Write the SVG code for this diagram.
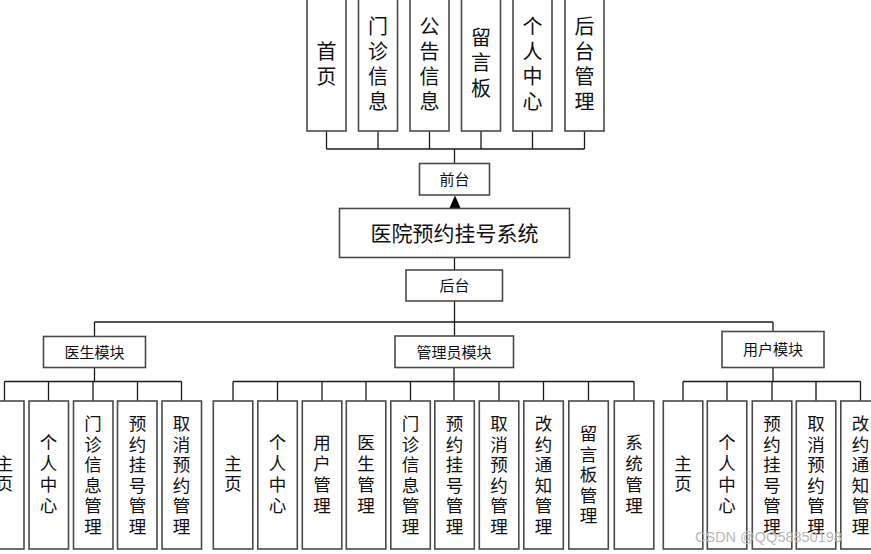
<svg xmlns="http://www.w3.org/2000/svg" width="871" height="554" viewBox="0 0 871 554">
<defs>
<style>
.box{fill:#fff;stroke:#4a4a4a;stroke-width:1.6}
.ln{fill:none;stroke:#1a1a1a;stroke-width:1.3}
text{font-family:"Noto Sans CJK SC","Liberation Sans",sans-serif;fill:#111;text-anchor:middle}
.t20{font-size:20px}
.t18{font-size:17.5px}
.t15{font-size:15px}
.t21{font-size:21px}
.wm{font-family:"Liberation Sans",sans-serif;font-size:14.5px;fill:#b8b8b8;text-anchor:start}
</style>
<marker id="ah" viewBox="0 0 12 13" refX="6" refY="0" markerWidth="12" markerHeight="13" markerUnits="userSpaceOnUse" orient="auto-start-reverse">
<path d="M0,13 L6,0 L12,13 Z" fill="#000"/>
</marker>
</defs>
<rect width="871" height="554" fill="#fff"/>

<g id="connectors">
<path class="ln" d="M326.5,131V149M378,131V149M429.5,131V149M481,131V149M532.5,131V149M584.5,131V149M326.5,149H584.5M454.5,149V163.5"/>
<line class="ln" x1="455" y1="208" x2="455" y2="207" />
<path d="M449.5,208 L455,195.5 L460.5,208 Z" fill="#000"/>
<path class="ln" d="M454.5,257.5V270M454.5,301V336M94.5,322H773M94.5,322V336.5M773,322V331.5"/>
<path class="ln" d="M94.5,367.5V381.5M4.5,381.5H181.5M4.5,381.5V401M48.5,381.5V401M93,381.5V401M137.5,381.5V401M181.5,381.5V401"/>
<path class="ln" d="M454,367.5V401M233,381.5H634M233,381.5V401M277.5,381.5V401M322,381.5V401M366,381.5V401M410.5,381.5V401M499,381.5V401M543.5,381.5V401M588.5,381.5V401M634,381.5V401"/>
<path class="ln" d="M773,367.5V381.5M683,381.5H860.5M683,381.5V401M727,381.5V401M772,381.5V401M816,381.5V401M860.5,381.5V401"/>
</g>

<g id="top-shouye"><rect class="box" x="307" y="-5" width="39" height="136"/><text class="t20"><tspan x="326.5" y="59">首</tspan><tspan x="326.5" y="84">页</tspan></text></g>
<g id="top-menzhen"><rect class="box" x="358.5" y="-5" width="39" height="136"/><text class="t20"><tspan x="378" y="34">门</tspan><tspan x="378" y="59">诊</tspan><tspan x="378" y="84">信</tspan><tspan x="378" y="109">息</tspan></text></g>
<g id="top-gonggao"><rect class="box" x="410" y="-5" width="39" height="136"/><text class="t20"><tspan x="429.5" y="34">公</tspan><tspan x="429.5" y="59">告</tspan><tspan x="429.5" y="84">信</tspan><tspan x="429.5" y="109">息</tspan></text></g>
<g id="top-liuyan"><rect class="box" x="461.5" y="-5" width="39" height="136"/><text class="t20"><tspan x="481" y="45">留</tspan><tspan x="481" y="70">言</tspan><tspan x="481" y="96">板</tspan></text></g>
<g id="top-geren"><rect class="box" x="513" y="-5" width="39" height="136"/><text class="t20"><tspan x="532.5" y="34">个</tspan><tspan x="532.5" y="59">人</tspan><tspan x="532.5" y="84">中</tspan><tspan x="532.5" y="109">心</tspan></text></g>
<g id="top-houtai"><rect class="box" x="565" y="-5" width="39" height="136"/><text class="t20"><tspan x="584.5" y="34">后</tspan><tspan x="584.5" y="59">台</tspan><tspan x="584.5" y="84">管</tspan><tspan x="584.5" y="109">理</tspan></text></g>

<g id="qiantai"><rect class="box" x="419.5" y="163.5" width="70" height="31.5"/><text class="t15" x="454.5" y="185">前台</text></g>
<g id="system"><rect class="box" x="339.5" y="208.5" width="230" height="49"/><text class="t21" x="454.5" y="240.5">医院预约挂号系统</text></g>
<g id="houtai"><rect class="box" x="406" y="270" width="96.5" height="31"/><text class="t15" x="454.5" y="291">后台</text></g>

<g id="mod-doctor"><rect class="box" x="43.5" y="336.5" width="102" height="31"/><text class="t15" x="94.5" y="357.5">医生模块</text></g>
<g id="mod-admin"><rect class="box" x="395" y="336" width="118.5" height="31.5"/><text class="t15" x="454" y="357.5">管理员模块</text></g>
<g id="mod-user"><rect class="box" x="722" y="331.5" width="102" height="36"/><text class="t15" x="773" y="355">用户模块</text></g>

<g id="d1"><rect class="box" x="-15.5" y="401" width="39.5" height="148"/><text class="t18"><tspan x="4.5" y="470">主</tspan><tspan x="4.5" y="490">页</tspan></text></g>
<g id="d2"><rect class="box" x="29" y="401" width="39.5" height="148"/><text class="t18"><tspan x="48.5" y="449">个</tspan><tspan x="48.5" y="470">人</tspan><tspan x="48.5" y="491">中</tspan><tspan x="48.5" y="512">心</tspan></text></g>
<g id="d3"><rect class="box" x="73.5" y="401" width="39.5" height="148"/><text class="t18"><tspan x="93" y="429.5">门</tspan><tspan x="93" y="450.5">诊</tspan><tspan x="93" y="471">信</tspan><tspan x="93" y="491.5">息</tspan><tspan x="93" y="512">管</tspan><tspan x="93" y="533">理</tspan></text></g>
<g id="d4"><rect class="box" x="117.5" y="401" width="39.5" height="148"/><text class="t18"><tspan x="137.5" y="429.5">预</tspan><tspan x="137.5" y="450.5">约</tspan><tspan x="137.5" y="471">挂</tspan><tspan x="137.5" y="491.5">号</tspan><tspan x="137.5" y="512">管</tspan><tspan x="137.5" y="533">理</tspan></text></g>
<g id="d5"><rect class="box" x="162" y="401" width="39.5" height="148"/><text class="t18"><tspan x="181.5" y="429.5">取</tspan><tspan x="181.5" y="450.5">消</tspan><tspan x="181.5" y="471">预</tspan><tspan x="181.5" y="491.5">约</tspan><tspan x="181.5" y="512">管</tspan><tspan x="181.5" y="533">理</tspan></text></g>

<g id="a1"><rect class="box" x="213.3" y="401" width="39.5" height="148"/><text class="t18"><tspan x="233" y="470">主</tspan><tspan x="233" y="490">页</tspan></text></g>
<g id="a2"><rect class="box" x="257.8" y="401" width="39.5" height="148"/><text class="t18"><tspan x="277.5" y="449">个</tspan><tspan x="277.5" y="470">人</tspan><tspan x="277.5" y="491">中</tspan><tspan x="277.5" y="512">心</tspan></text></g>
<g id="a3"><rect class="box" x="302.3" y="401" width="39.5" height="148"/><text class="t18"><tspan x="322" y="449">用</tspan><tspan x="322" y="470">户</tspan><tspan x="322" y="491">管</tspan><tspan x="322" y="512">理</tspan></text></g>
<g id="a4"><rect class="box" x="346.3" y="401" width="39.5" height="148"/><text class="t18"><tspan x="366" y="449">医</tspan><tspan x="366" y="470">生</tspan><tspan x="366" y="491">管</tspan><tspan x="366" y="512">理</tspan></text></g>
<g id="a5"><rect class="box" x="390.8" y="401" width="39.5" height="148"/><text class="t18"><tspan x="410.5" y="429.5">门</tspan><tspan x="410.5" y="450.5">诊</tspan><tspan x="410.5" y="471">信</tspan><tspan x="410.5" y="491.5">息</tspan><tspan x="410.5" y="512">管</tspan><tspan x="410.5" y="533">理</tspan></text></g>
<g id="a6"><rect class="box" x="434.8" y="401" width="39.5" height="148"/><text class="t18"><tspan x="454.5" y="429.5">预</tspan><tspan x="454.5" y="450.5">约</tspan><tspan x="454.5" y="471">挂</tspan><tspan x="454.5" y="491.5">号</tspan><tspan x="454.5" y="512">管</tspan><tspan x="454.5" y="533">理</tspan></text></g>
<g id="a7"><rect class="box" x="479.3" y="401" width="39.5" height="148"/><text class="t18"><tspan x="499" y="429.5">取</tspan><tspan x="499" y="450.5">消</tspan><tspan x="499" y="471">预</tspan><tspan x="499" y="491.5">约</tspan><tspan x="499" y="512">管</tspan><tspan x="499" y="533">理</tspan></text></g>
<g id="a8"><rect class="box" x="523.8" y="401" width="39.5" height="148"/><text class="t18"><tspan x="543.5" y="429.5">改</tspan><tspan x="543.5" y="450.5">约</tspan><tspan x="543.5" y="471">通</tspan><tspan x="543.5" y="491.5">知</tspan><tspan x="543.5" y="512">管</tspan><tspan x="543.5" y="533">理</tspan></text></g>
<g id="a9"><rect class="box" x="568.8" y="401" width="39.5" height="148"/><text class="t18"><tspan x="588.5" y="439.5">留</tspan><tspan x="588.5" y="460.5">言</tspan><tspan x="588.5" y="481">板</tspan><tspan x="588.5" y="501.5">管</tspan><tspan x="588.5" y="522">理</tspan></text></g>
<g id="a10"><rect class="box" x="614.3" y="401" width="39.5" height="148"/><text class="t18"><tspan x="634" y="449">系</tspan><tspan x="634" y="470">统</tspan><tspan x="634" y="491">管</tspan><tspan x="634" y="512">理</tspan></text></g>

<g id="u1"><rect class="box" x="663.3" y="401" width="39.5" height="148"/><text class="t18"><tspan x="683" y="470">主</tspan><tspan x="683" y="490">页</tspan></text></g>
<g id="u2"><rect class="box" x="707.3" y="401" width="39.5" height="148"/><text class="t18"><tspan x="727" y="449">个</tspan><tspan x="727" y="470">人</tspan><tspan x="727" y="491">中</tspan><tspan x="727" y="512">心</tspan></text></g>
<g id="u3"><rect class="box" x="752.3" y="401" width="39.5" height="148"/><text class="t18"><tspan x="772" y="429.5">预</tspan><tspan x="772" y="450.5">约</tspan><tspan x="772" y="471">挂</tspan><tspan x="772" y="491.5">号</tspan><tspan x="772" y="512">管</tspan><tspan x="772" y="533">理</tspan></text></g>
<g id="u4"><rect class="box" x="796.3" y="401" width="39.5" height="148"/><text class="t18"><tspan x="816" y="429.5">取</tspan><tspan x="816" y="450.5">消</tspan><tspan x="816" y="471">预</tspan><tspan x="816" y="491.5">约</tspan><tspan x="816" y="512">管</tspan><tspan x="816" y="533">理</tspan></text></g>
<g id="u5"><rect class="box" x="840.8" y="401" width="39.5" height="148"/><text class="t18"><tspan x="860.5" y="429.5">改</tspan><tspan x="860.5" y="450.5">约</tspan><tspan x="860.5" y="471">通</tspan><tspan x="860.5" y="491.5">知</tspan><tspan x="860.5" y="512">管</tspan><tspan x="860.5" y="533">理</tspan></text></g>

<text class="wm" x="695" y="542">CSDN @QQ58850198</text>
</svg>
